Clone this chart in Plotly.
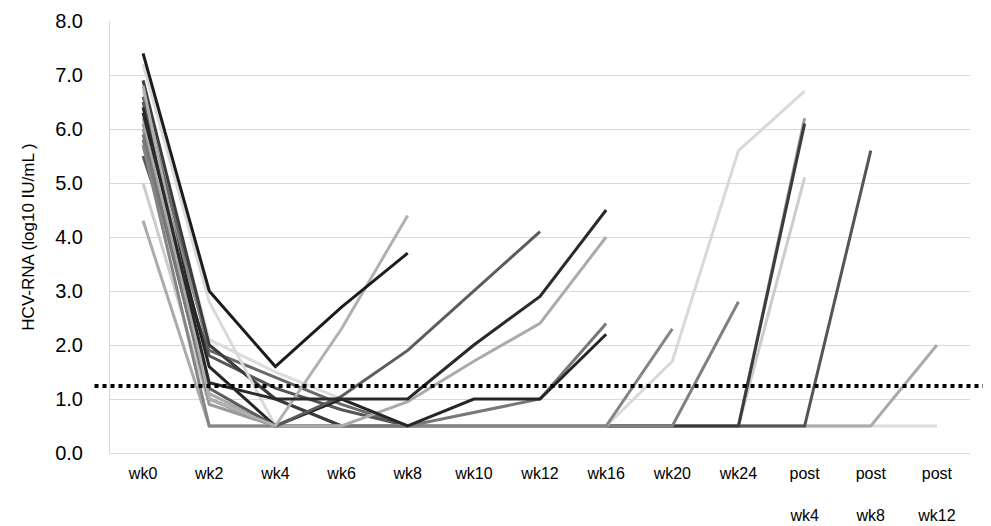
import plotly.graph_objects as go

categories = ["wk0", "wk2", "wk4", "wk6", "wk8", "wk10", "wk12", "wk16",
              "wk20", "wk24", "post wk4", "post wk8", "post wk12"]
tick_labels = ["wk0", "wk2", "wk4", "wk6", "wk8", "wk10", "wk12", "wk16",
               "wk20", "wk24", "post<br><br>wk4", "post<br><br>wk8", "post<br><br>wk12"]

N = None
# HCV-RNA (log10 IU/mL) per patient, one value per time point (None = not measured)
p01 = [7.4, 3.0, 1.6, 2.7, 3.7, N, N, N, N, N, N, N, N]
p02 = [6.8, 1.0, 0.5, 2.3, 4.4, N, N, N, N, N, N, N, N]
p03 = [6.5, 1.2, 0.5, 1.05, 1.9, 3.0, 4.1, N, N, N, N, N, N]
p04 = [6.4, 1.3, 1.0, 1.0, 1.0, 2.0, 2.9, 4.5, N, N, N, N, N]
p05 = [6.2, 1.1, 0.5, 0.5, 0.95, 1.7, 2.4, 4.0, N, N, N, N, N]
p06 = [5.9, 1.0, 0.5, 0.5, 0.5, 0.75, 1.0, 2.4, N, N, N, N, N]
p07 = [6.3, 1.6, 0.5, 1.0, 0.5, 1.0, 1.0, 2.2, N, N, N, N, N]
p08 = [5.7, 0.5, 0.5, 0.5, 0.5, 0.5, 0.5, 0.5, 2.3, N, N, N, N]
p09 = [7.2, 2.8, 0.5, 0.5, 0.5, 0.5, 0.5, 0.5, 1.7, 5.6, 6.7, N, N]
p10 = [5.8, 1.0, 0.5, 0.5, 0.5, 0.5, 0.5, 0.5, 0.5, 2.8, N, N, N]
p11 = [6.0, 0.9, 0.5, 0.5, 0.5, 0.5, 0.5, 0.5, 0.5, 0.5, 6.2, N, N]
p12 = [6.9, 2.0, 1.0, 0.5, 0.5, 0.5, 0.5, 0.5, 0.5, 0.5, 6.1, N, N]
p13 = [5.0, 0.9, 0.5, 0.5, 0.5, 0.5, 0.5, 0.5, 0.5, 0.5, 5.1, N, N]
p14 = [5.5, 1.8, 1.2, 0.8, 0.5, 0.5, 0.5, 0.5, 0.5, 0.5, 0.5, 5.6, N]
p15 = [4.3, 0.5, 0.5, 0.5, 0.5, 0.5, 0.5, 0.5, 0.5, 0.5, 0.5, 0.5, 2.0]
p16 = [6.7, 2.1, 1.5, 1.0, 0.5, 0.5, 0.5, 0.5, 0.5, 0.5, 0.5, 0.5, 0.5]
p17 = [6.6, 1.9, 1.4, 0.9, 0.5, 0.5, 0.5, 0.5, 0.5, 0.5, N, N, N]
p18 = [6.1, 2.0, 1.0, 0.5, 0.5, 0.5, 0.5, 0.5, 0.5, 0.5, N, N, N]

patients = [p16, p17, p18, p15, p14, p13, p11, p12, p10, p09, p08,
            p06, p05, p07, p03, p02, p04, p01]
colors = ["#dcdcdc", "#6a6a6a", "#8a8a8a", "#ababab", "#555555", "#cccccc",
          "#9a9a9a", "#3c3c3c", "#808080", "#d9d9d9", "#858585",
          "#777777", "#aaaaaa", "#262626", "#5c5c5c", "#b0b0b0", "#2a2a2a", "#1c1c1c"]

lloq = 1.24
y_ticks = [0, 1, 2, 3, 4, 5, 6, 7, 8]

fig = go.Figure()
for vals, col in zip(patients, colors):
    fig.add_trace(go.Scatter(x=categories, y=vals, mode="lines",
                             line=dict(color=col, width=3),
                             connectgaps=False, showlegend=False,
                             hoverinfo="skip"))

fig.add_shape(type="line", xref="paper", yref="y", x0=-0.018, x1=1.023,
              y0=lloq, y1=lloq, line=dict(color="black", width=4, dash="dot"))

fig.update_layout(
    width=983, height=518,
    margin=dict(l=102, r=21, t=13, b=73),
    paper_bgcolor="white", plot_bgcolor="white",
    font=dict(family="Liberation Sans, Arial, sans-serif", color="#000000"),
    xaxis=dict(type="category", categoryorder="array", categoryarray=categories,
               range=[-0.5, 12.5], tickmode="array", tickvals=categories,
               ticktext=tick_labels, showgrid=False, showline=True,
               linecolor="#d9d9d9", linewidth=1, automargin=False,
               tickfont=dict(size=16, color="#000000"),
               ticks="outside", ticklen=6, tickcolor="rgba(0,0,0,0)"),
    yaxis=dict(range=[0, 8], tickvals=y_ticks,
               ticktext=[f"{v:.1f}" for v in y_ticks],
               showgrid=True, gridcolor="#d9d9d9", gridwidth=1,
               showline=True, linecolor="#d9d9d9", linewidth=1,
               zeroline=False, automargin=False,
               tickfont=dict(size=20, color="#000000"),
               ticks="outside", ticklen=22, tickcolor="rgba(0,0,0,0)",
               title=dict(text="HCV-RNA (log10 IU/mL )", font=dict(size=17),
                          standoff=16)),
)

fig.write_html("out.html")
